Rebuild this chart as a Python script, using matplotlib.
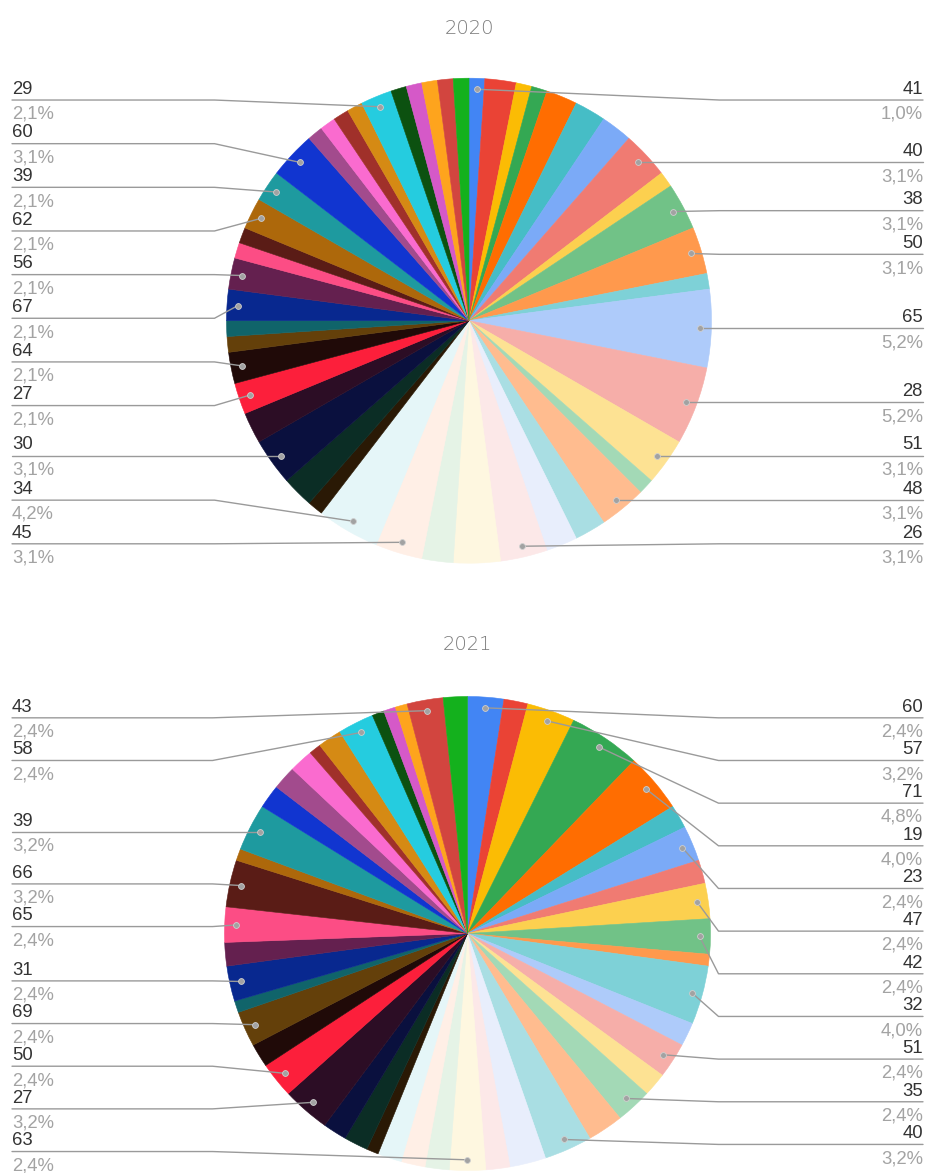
import numpy as np
import matplotlib
matplotlib.use("Agg")
import matplotlib.pyplot as plt

W, H, DPI = 927, 1173, 100

# Slice counts in drawing order (clockwise from 12 o'clock) and their category names.
# Empty names are slices that carry no outside label.
values_2020 = [1, 2, 1, 1, 2, 2, 2, 3, 1, 3,
               3, 1, 5, 5, 3, 1, 3, 2, 2, 3,
               3, 2, 3, 4, 1, 2, 3, 2, 2, 2,
               1, 1, 2, 2, 1, 1, 2, 2, 3, 1,
               1, 1, 1, 2, 1, 1, 1, 1, 1]
labels_2020 = ["41", "", "", "", "", "", "", "40", "", "38",
               "50", "", "65", "28", "51", "", "48", "", "", "26",
               "", "", "45", "34", "", "", "30", "", "27", "64",
               "", "", "67", "56", "", "", "62", "39", "60", "",
               "", "", "", "29", "", "", "", "", ""]

values_2021 = [3, 2, 4, 6, 5, 2, 3, 2, 3, 3,
               1, 5, 2, 3, 2, 3, 3, 4, 3, 2,
               3, 2, 2, 2, 1, 2, 2, 4, 3, 2,
               3, 1, 3, 2, 3, 4, 1, 4, 2, 2,
               2, 1, 2, 3, 1, 1, 1, 3, 2]
labels_2021 = ["60", "", "57", "71", "19", "", "23", "", "47", "42",
               "", "32", "", "51", "", "35", "", "40", "", "",
               "63", "", "", "", "", "", "", "27", "50", "",
               "69", "", "31", "", "65", "66", "", "39", "", "",
               "", "", "", "58", "", "", "", "43", ""]

palette = [
    "#4285F4", "#EA4335", "#FBBC04", "#34A853", "#FF6D01", "#46BDC6",
    "#7BAAF7", "#F07B72", "#FCD04F", "#71C287", "#FF994D", "#7ED1D7",
    "#AECBFA", "#F6AEA9", "#FDE293", "#A3D9B6", "#FFBC8F", "#A9DEE3",
    "#E8EEFC", "#FCE8E8", "#FEF7E0", "#E5F3E6", "#FFEFE6", "#E5F6F8",
    "#2A1905", "#0B2D25", "#0A103E", "#2C0D25", "#FC1F3B", "#200A08",
    "#64400A", "#10646A", "#08288F", "#64204F", "#FC4D85", "#5A1C16",
    "#AD680B", "#1E9A9F", "#1135D0", "#A24B8D", "#FA6BCF", "#A0302A",
    "#D58A14", "#25CCDF", "#0C5110", "#D559C8", "#FEA41D", "#D2453F",
    "#14B11D",
]

NAME_COLOR = "#333333"
PCT_COLOR = "#a3a3a3"
LINE_COLOR = "#9a9a9a"
TITLE_COLOR = "#7a7a7a"
LABEL_FONT = ["Liberation Sans", "DejaVu Sans"]


def spread(targets, gap, lo, hi):
    """Place labels near their targets, keeping a minimum gap and staying in [lo, hi]."""
    targets = np.asarray(targets, dtype=float)
    order = np.argsort(targets)
    t = targets[order]
    groups = [[i] for i in range(len(t))]

    def place(g):
        n = len(g)
        pos = t[g].mean() + (np.arange(n) - (n - 1) / 2.0) * gap
        if pos[0] < lo:
            pos += lo - pos[0]
        if pos[-1] > hi:
            pos -= pos[-1] - hi
        return pos

    merged = True
    while merged:
        merged = False
        placed = [place(g) for g in groups]
        for k in range(len(groups) - 1):
            if placed[k][-1] + gap > placed[k + 1][0] + 1e-9:
                groups[k] = groups[k] + groups[k + 1]
                del groups[k + 1]
                merged = True
                break
    out = np.empty(len(t))
    for g in groups:
        out[order[g]] = place(g)
    return out


def fmt_pct(v, total):
    return f"{100.0 * v / total:.1f}".replace(".", ",") + "%"


fig = plt.figure(figsize=(W / DPI, H / DPI), dpi=DPI)
fig.patch.set_facecolor("white")
overlay = fig.add_axes([0, 0, 1, 1], zorder=5)
overlay.set_xlim(0, W)
overlay.set_ylim(H, 0)
overlay.axis("off")
overlay.patch.set_alpha(0)

charts = [
    dict(title="2020", values=values_2020, labels=labels_2020,
         cx=469.0, cy=320.7, rx=242.5, ry=242.5, title_base=34.5),
    dict(title="2021", values=values_2021, labels=labels_2021,
         cx=467.5, cy=933.5, rx=243.0, ry=237.0, title_base=650.5),
]

for ch in charts:
    cx, cy, rx, ry = ch["cx"], ch["cy"], ch["rx"], ch["ry"]
    vals = ch["values"]
    total = float(sum(vals))
    ax = fig.add_axes([(cx - rx) / W, 1 - (cy + ry) / H, 2 * rx / W, 2 * ry / H])
    wedges, _ = ax.pie(vals, colors=palette[:len(vals)], startangle=90,
                       counterclock=False, radius=1.0)
    ax.set_aspect("auto")
    ax.set_xlim(-1, 1)
    ax.set_ylim(-1, 1)
    ax.axis("off")
    for w in wedges:
        w.set_edgecolor(w.get_facecolor())
        w.set_linewidth(0.4)

    to_px = ax.transData + overlay.transData.inverted()

    sides = {"left": [], "right": []}
    for w, name, v in zip(wedges, ch["labels"], vals):
        if not name:
            continue
        mid = np.deg2rad((w.theta1 + w.theta2) / 2.0)
        dx, dy = to_px.transform((0.955 * np.cos(mid), 0.955 * np.sin(mid)))
        side = "right" if dx > cx + 0.5 else "left"
        sides[side].append((dx, dy, name, fmt_pct(v, total)))

    gap = 0.18 * ry
    lo, hi = cy - 0.91 * ry, cy + 0.92 * ry
    for side, items in sides.items():
        if not items:
            continue
        ys = spread([it[1] for it in items], gap, lo, hi)
        for (dx, dy, name, pct), ly in zip(items, ys):
            if side == "left":
                x_edge, x_bend, ha = 12.0, cx - rx - 12.0, "left"
            else:
                x_edge, x_bend, ha = 923.0, cx + rx + 8.0, "right"
            overlay.plot([x_edge, x_bend, dx], [ly, ly, dy], color=LINE_COLOR,
                         lw=1.0, solid_capstyle="round", zorder=2)
            overlay.plot(dx, dy, "o", ms=4.2, mfc="#a2a2a2", mec="#cfcfcf",
                         mew=0.6, zorder=3)
            overlay.text(x_edge, ly - 6.2, name, ha=ha, va="baseline",
                         fontsize=13.3, color=NAME_COLOR, family=LABEL_FONT)
            overlay.text(x_edge, ly + 18.8, pct, ha=ha, va="baseline",
                         fontsize=13.3, color=PCT_COLOR, family=LABEL_FONT)

    overlay.text(cx, ch["title_base"], ch["title"], ha="center", va="baseline",
                 fontsize=14, color=TITLE_COLOR, family=["DejaVu Sans"],
                 fontweight="light")

fig.savefig("out.png", dpi=DPI, facecolor="white")
